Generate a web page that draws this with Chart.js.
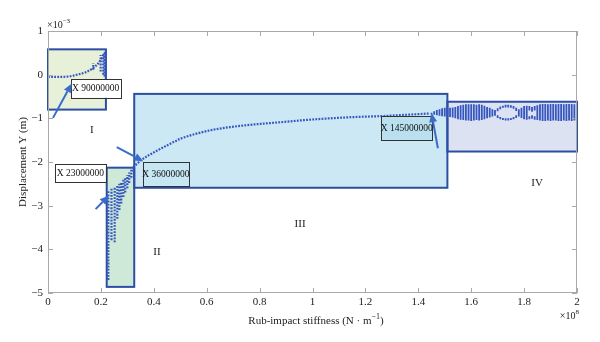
<!DOCTYPE html>
<html>
<head>
<meta charset="utf-8">
<script src="https://cdn.jsdelivr.net/npm/chart.js@4.4.0/dist/chart.umd.min.js"></script>
<style>
  html, body { margin: 0; padding: 0; background: #fff; }
</style>
</head>
<body>
<canvas id="chart" width="600" height="342"></canvas>
<script>
// stiffness in units of 1e8 N/m, displacement in units of 1e-3 m
const xTicks = [0, 0.2, 0.4, 0.6, 0.8, 1, 1.2, 1.4, 1.6, 1.8, 2];
const yTicks = [-5, -4, -3, -2, -1, 0, 1];

// single-period branch before the first window
const branchAX = [0, 0.04, 0.08, 0.11, 0.14, 0.17, 0.19, 0.205, 0.215, 0.22];
const branchAY = [-0.05, -0.05, -0.04, 0.0, 0.05, 0.15, 0.26, 0.4, 0.5, 0.56];

// single-period branch through region III
const branchBX = [0.322, 0.354, 0.40, 0.45, 0.50, 0.55, 0.625, 0.69, 0.78, 0.877, 0.97, 1.066, 1.16, 1.255, 1.35, 1.44];
const branchBY = [-2.12, -1.95, -1.78, -1.62, -1.47, -1.37, -1.26, -1.2, -1.14, -1.09, -1.04, -1.0, -0.97, -0.95, -0.92, -0.89];

// spread of the sampled response per stiffness value (region I)
const colIX = [0.171, 0.199, 0.209, 0.214, 0.219];
const colILo = [0.11, 0.07, 0.0, -0.04, -0.08];
const colIHi = [0.26, 0.45, 0.48, 0.52, 0.56];

// region II
const colIIX = [0.228, 0.240, 0.252, 0.262, 0.270, 0.277, 0.285, 0.292, 0.300, 0.307, 0.315, 0.322];
const colIILo = [-4.7, -3.79, -3.84, -3.3, -3.1, -2.95, -2.8, -2.7, -2.6, -2.48, -2.36, -2.22];
const colIIHi = [-2.64, -2.6, -2.57, -2.55, -2.5, -2.45, -2.4, -2.35, -2.3, -2.24, -2.18, -2.12];

// region IV (with the onset fan just before it)
const colIVX = [1.45, 1.46, 1.47, 1.48, 1.49, 1.50, 1.51, 1.52, 1.53, 1.54, 1.55, 1.56, 1.57, 1.58,
  1.59, 1.60, 1.61, 1.62, 1.63, 1.64, 1.65, 1.66, 1.67, 1.68, 1.69, 1.70, 1.71, 1.72, 1.73, 1.74,
  1.75, 1.76, 1.77, 1.78, 1.79, 1.80, 1.81, 1.82, 1.83, 1.84, 1.85, 1.86, 1.87, 1.88, 1.89, 1.90,
  1.91, 1.92, 1.93, 1.94, 1.95, 1.96, 1.97, 1.98, 1.99, 2.00];
const colIVLo = [-0.91, -0.92, -0.93, -0.94, -0.95, -0.96, -0.96, -0.97, -0.98, -1.0, -1.02, -1.03, -1.04, -1.05,
  -1.05, -1.06, -1.05, -1.04, -1.05, -1.04, -1.02, -1.0, -0.98, -0.96, -0.94, -0.99, -1.02, -1.04, -1.05, -1.05,
  -1.04, -1.02, -0.99, -0.96, -0.99, -1.02, -1.03, -1.02, -1.01, -1.03, -1.04, -1.05, -1.06, -1.06, -1.05, -1.06,
  -1.05, -1.05, -1.06, -1.06, -1.05, -1.06, -1.05, -1.06, -1.05, -1.06];
const colIVHi = [-0.87, -0.84, -0.81, -0.79, -0.77, -0.76, -0.77, -0.76, -0.75, -0.74, -0.72, -0.7, -0.69, -0.68,
  -0.68, -0.68, -0.68, -0.69, -0.68, -0.69, -0.71, -0.74, -0.76, -0.79, -0.81, -0.77, -0.73, -0.71, -0.69, -0.69,
  -0.7, -0.72, -0.76, -0.79, -0.76, -0.72, -0.71, -0.72, -0.74, -0.72, -0.7, -0.68, -0.67, -0.67, -0.68, -0.67,
  -0.67, -0.68, -0.67, -0.67, -0.68, -0.67, -0.67, -0.67, -0.68, -0.67];
// empty bands inside the region IV loops
const gapIVX = [1.70, 1.71, 1.72, 1.73, 1.74, 1.75, 1.76, 1.77, 1.82, 1.83, 1.84];
const gapIVLo = [-0.93, -0.97, -0.99, -1.0, -1.0, -0.99, -0.97, -0.93, -0.95, -0.93, -0.95];
const gapIVHi = [-0.84, -0.79, -0.76, -0.75, -0.75, -0.76, -0.78, -0.83, -0.82, -0.85, -0.82];

// motion regions
const regionNames = ['I', 'II', 'III', 'IV'];
const regionX0 = [0, 0.222, 0.326, 1.51];
const regionX1 = [0.219, 0.326, 1.51, 2.0];
const regionY0 = [-0.8, -4.86, -2.59, -1.76];
const regionY1 = [0.58, -2.13, -0.44, -0.62];

// marked stiffness labels
const markText = ['X 90000000', 'X 23000000', 'X 36000000', 'X 145000000'];
const markTipX = [0.09, 0.23, 0.36, 1.45];
const markTipY = [-0.2, -2.77, -1.98, -0.88];

// ---- drawing layout ----
const regionFill = ['#e7f0d8', '#cfe9d9', '#cbe8f4', '#dde2f3'];
const regionLabelAt = [[0.166, -1.27], [0.412, -4.06], [0.953, -3.42], [1.849, -2.48]];
const markBox = [[0.086, 0.274, -0.1, -0.53], [0.026, 0.218, -2.05, -2.47],
  [0.358, 0.533, -2.0, -2.54], [1.26, 1.452, -0.946, -1.495]];
const markFill = ['#ffffff', '#ffffff', '#c6e6f3', '#bae0ef'];
const markTail = [[0.019, -0.99], [0.18, -3.08], [0.26, -1.66], [1.474, -1.685]];

const BLUE = '#3556bf';
const EDGE = '#2c4ea3';
const SERIF = "'Liberation Serif', 'DejaVu Serif', serif";

function pts(xs, ys) {
  return xs.map((x, i) => ({ x: x, y: ys[i] }));
}

// vertical runs of points, broken by nulls
function columns(xs, lo, hi, gapX, gapLo, gapHi) {
  const out = [];
  xs.forEach((x, i) => {
    const g = gapX ? gapX.indexOf(x) : -1;
    if (g >= 0) {
      out.push({ x: x, y: lo[i] }, { x: x, y: gapLo[g] }, { x: x, y: null });
      out.push({ x: x, y: gapHi[g] }, { x: x, y: hi[i] }, { x: x, y: null });
    } else {
      out.push({ x: x, y: lo[i] }, { x: x, y: hi[i] }, { x: x, y: null });
    }
  });
  return out;
}

function supText(ctx, parts, x, y, align, size) {
  const small = Math.round(size * 0.7);
  let w = 0;
  parts.forEach(p => {
    ctx.font = (p[1] ? small : size) + 'px ' + SERIF;
    w += ctx.measureText(p[0]).width;
  });
  let cx = align === 'right' ? x - w : align === 'center' ? x - w / 2 : x;
  ctx.textAlign = 'left';
  ctx.textBaseline = 'middle';
  parts.forEach(p => {
    ctx.font = (p[1] ? small : size) + 'px ' + SERIF;
    ctx.fillText(p[0], cx, p[1] ? y - size * 0.38 : y);
    cx += ctx.measureText(p[0]).width;
  });
}

function arrow(ctx, x0, y0, x1, y1) {
  const a = Math.atan2(y1 - y0, x1 - x0);
  const hl = 9, hw = 4;
  const bx = x1 - hl * Math.cos(a), by = y1 - hl * Math.sin(a);
  ctx.beginPath();
  ctx.moveTo(x0, y0);
  ctx.lineTo(bx, by);
  ctx.stroke();
  ctx.beginPath();
  ctx.moveTo(x1, y1);
  ctx.lineTo(bx + hw * Math.sin(a), by - hw * Math.cos(a));
  ctx.lineTo(bx - hw * Math.sin(a), by + hw * Math.cos(a));
  ctx.closePath();
  ctx.fill();
}

const decor = {
  id: 'decor',
  beforeDatasetsDraw(chart) {
    const { ctx, scales: { x, y } } = chart;
    ctx.save();
    for (let i = 0; i < regionNames.length; i++) {
      const l = x.getPixelForValue(regionX0[i]), r = x.getPixelForValue(regionX1[i]);
      const t = y.getPixelForValue(regionY1[i]), b = y.getPixelForValue(regionY0[i]);
      ctx.fillStyle = regionFill[i];
      ctx.fillRect(l, t, r - l, b - t);
    }
    ctx.strokeStyle = EDGE;
    ctx.lineWidth = 2;
    for (let i = 0; i < regionNames.length; i++) {
      const l = x.getPixelForValue(regionX0[i]), r = x.getPixelForValue(regionX1[i]);
      const t = y.getPixelForValue(regionY1[i]), b = y.getPixelForValue(regionY0[i]);
      ctx.strokeRect(l, t, r - l, b - t);
    }
    ctx.restore();
  },
  afterDatasetsDraw(chart) {
    const { ctx, scales: { x, y } } = chart;
    ctx.save();
    // region numerals
    ctx.fillStyle = '#222';
    ctx.font = '11px ' + SERIF;
    ctx.textAlign = 'center';
    ctx.textBaseline = 'middle';
    regionNames.forEach((n, i) => {
      ctx.fillText(n, x.getPixelForValue(regionLabelAt[i][0]), y.getPixelForValue(regionLabelAt[i][1]));
    });
    // marked stiffness values
    markText.forEach((txt, i) => {
      const b = markBox[i];
      const l = x.getPixelForValue(b[0]), r = x.getPixelForValue(b[1]);
      const t = y.getPixelForValue(b[2]), bt = y.getPixelForValue(b[3]);
      ctx.fillStyle = markFill[i];
      ctx.fillRect(l, t, r - l, bt - t);
      ctx.strokeStyle = '#333';
      ctx.lineWidth = 1;
      ctx.strokeRect(Math.round(l) + 0.5, Math.round(t) + 0.5, Math.round(r - l), Math.round(bt - t));
      ctx.fillStyle = '#111';
      ctx.font = '9.5px ' + SERIF;
      ctx.textAlign = 'center';
      ctx.fillText(txt, (l + r) / 2, (t + bt) / 2 + 0.5);
    });
    ctx.strokeStyle = '#3a6cc8';
    ctx.fillStyle = '#3a6cc8';
    ctx.lineWidth = 2;
    markText.forEach((txt, i) => {
      arrow(ctx,
        x.getPixelForValue(markTail[i][0]), y.getPixelForValue(markTail[i][1]),
        x.getPixelForValue(markTipX[i]), y.getPixelForValue(markTipY[i]));
    });
    ctx.restore();
  },
  afterDraw(chart) {
    const { ctx, chartArea: a, scales: { x, y } } = chart;
    ctx.save();
    ctx.strokeStyle = '#a9a9a9';
    ctx.lineWidth = 1;
    ctx.strokeRect(a.left + 0.5, a.top + 0.5, a.right - a.left - 1, a.bottom - a.top - 1);
    ctx.beginPath();
    xTicks.forEach(v => {
      const px = Math.round(x.getPixelForValue(v)) + 0.5;
      ctx.moveTo(px, a.bottom); ctx.lineTo(px, a.bottom - 5);
      ctx.moveTo(px, a.top); ctx.lineTo(px, a.top + 5);
    });
    yTicks.forEach(v => {
      const py = Math.round(y.getPixelForValue(v)) + 0.5;
      ctx.moveTo(a.left, py); ctx.lineTo(a.left + 5, py);
      ctx.moveTo(a.right, py); ctx.lineTo(a.right - 5, py);
    });
    ctx.stroke();
    ctx.fillStyle = '#222';
    supText(ctx, [['×10', false], ['−3', true]], a.left - 1, 25, 'left', 10);
    supText(ctx, [['×10', false], ['8', true]], a.right + 2, 316, 'right', 10);
    supText(ctx, [['Rub-impact stiffness (N · m', false], ['−1', true], [')', false]], 316, 321, 'center', 11);
    ctx.translate(23, (a.top + a.bottom) / 2);
    ctx.rotate(-Math.PI / 2);
    ctx.font = '11px ' + SERIF;
    ctx.textAlign = 'center';
    ctx.textBaseline = 'middle';
    ctx.fillText('Displacement Y (m)', 0, 0);
    ctx.restore();
  }
};

const dotted = { showLine: true, pointRadius: 0, borderColor: BLUE, borderWidth: 2.2,
  borderDash: [1.8, 1.3], borderCapStyle: 'butt', spanGaps: false };

new Chart(document.getElementById('chart'), {
  type: 'scatter',
  data: {
    datasets: [
      Object.assign({ data: pts(branchAX, branchAY), cubicInterpolationMode: 'monotone' }, dotted),
      Object.assign({ data: pts(branchBX, branchBY), cubicInterpolationMode: 'monotone' }, dotted),
      Object.assign({ data: columns(colIX, colILo, colIHi) }, dotted),
      Object.assign({ data: columns(colIIX, colIILo, colIIHi) }, dotted),
      { data: columns(colIVX, colIVLo, colIVHi, gapIVX, gapIVLo, gapIVHi), showLine: true, pointRadius: 0,
        borderColor: BLUE, borderWidth: 1.8, spanGaps: false }
    ]
  },
  options: {
    responsive: false,
    animation: false,
    layout: { padding: { top: 31, right: 23, left: 0, bottom: 0 } },
    plugins: { legend: { display: false }, tooltip: { enabled: false } },
    scales: {
      x: {
        type: 'linear', min: 0, max: 2,
        afterBuildTicks: s => { s.ticks = xTicks.map(v => ({ value: v })); },
        afterFit: s => { s.height = 49; },
        grid: { display: false, drawTicks: false },
        border: { display: false },
        ticks: { padding: 3, color: '#222', font: { family: SERIF, size: 11 },
          callback: v => String(+v.toFixed(1)) }
      },
      y: {
        type: 'linear', min: -5, max: 1,
        afterBuildTicks: s => { s.ticks = yTicks.map(v => ({ value: v })); },
        afterFit: s => { s.width = 48; },
        grid: { display: false, drawTicks: false },
        border: { display: false },
        ticks: { padding: 5, color: '#222', font: { family: SERIF, size: 11 },
          callback: v => v < 0 ? '−' + Math.abs(v) : String(v) }
      }
    }
  },
  plugins: [decor]
});
</script>
</body>
</html>
